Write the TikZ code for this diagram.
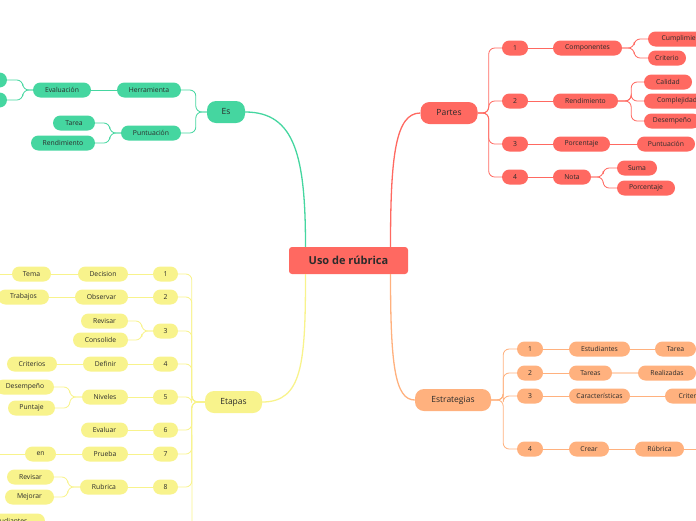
\documentclass[tikz,border=0pt]{standalone}
\usepackage{fontspec}
\setmainfont{Open Sans}
\usetikzlibrary{calc}

\definecolor{mmgreen}{HTML}{45D6A0}
\definecolor{mmred}{HTML}{FF6961}
\definecolor{mmyellow}{HTML}{F8F38C}
\definecolor{mmorange}{HTML}{FFB17E}
\definecolor{mmtext}{HTML}{2B2B2B}

\begin{document}
\begin{tikzpicture}[x=1pt, y=-1pt,
    box/.style={rounded corners=7.5pt, minimum height=15pt, inner sep=0pt,
        font=\fontsize{6.8}{7}\selectfont, text=mmtext},
    topic/.style={rounded corners=9pt, minimum height=22pt, inner sep=0pt,
        font=\fontsize{8.5}{9}\selectfont, text=mmtext},
    gbox/.style={box, fill=mmgreen}, rbox/.style={box, fill=mmred},
    ybox/.style={box, fill=mmyellow}, obox/.style={box, fill=mmorange},
    link/.style={line width=0.8pt, rounded corners=6pt},
    branch/.style={line width=1.3pt},
]
    \useasboundingbox (0,0) rectangle (696,520);
    \clip (0,0) rectangle (696,520);

    % Root
    \node[fill=mmred, rounded corners=3pt, minimum width=119pt, minimum height=27pt,
        font=\fontsize{11}{12}\selectfont\bfseries, text=mmtext] (root) at (348.5,260.5) {Uso de rúbrica};
    \coordinate (rtl) at ($(root.north)+(-43,0)$);
    \coordinate (rtr) at ($(root.north)+(42,0)$);
    \coordinate (rbl) at ($(root.south)+(-43,0)$);
    \coordinate (rbr) at ($(root.south)+(42,0)$);

    % Green branch: Es
    \node[topic, fill=mmgreen, minimum width=38pt] (es) at (226,112) {Es};
    \node[gbox, minimum width=64pt] (herr) at (149,90) {Herramienta};
    \node[gbox, minimum width=60pt] (punt) at (151,133) {Puntuación};
    \node[gbox, minimum width=58pt] (eval) at (62,90) {Evaluación};
    \node[gbox, minimum width=54pt] (evalA) at (-20,80) {};
    \node[gbox, minimum width=54pt] (evalB) at (-20,100) {};
    \node[gbox, minimum width=42pt] (tarea) at (74,123) {Tarea};
    \node[gbox, minimum width=64pt] (rend) at (63,143) {Rendimiento};

    \draw[branch, mmgreen] (es.east) .. controls +(50,0) and +(0,-90) .. (rtl);
    \draw[link, mmgreen] (es.west) -- ++(-11,0) |- (herr.east);
    \draw[link, mmgreen] (es.west) -- ++(-11,0) |- (punt.east);
    \draw[link, mmgreen] (herr.west) -- (eval.east);
    \draw[link, mmgreen] (eval.west) -- ++(-10,0) |- (evalA.east);
    \draw[link, mmgreen] (eval.west) -- ++(-10,0) |- (evalB.east);
    \draw[link, mmgreen] (punt.west) -- ++(-11,0) |- (tarea.east);
    \draw[link, mmgreen] (punt.west) -- ++(-11,0) |- (rend.east);

    % Red branch: Partes
    \node[topic, fill=mmred, minimum width=57pt] (partes) at (449,113) {Partes};
    \foreach \n/\y in {1/48, 2/101, 3/144, 4/177}
        \node[rbox, minimum width=26pt] (p\n) at (515,\y) {\n};
    \node[rbox, minimum width=69pt] (comp) at (587.5,48) {Componentes};
    \node[rbox, minimum width=65pt] (rendR) at (585.5,101) {Rendimiento};
    \node[rbox, minimum width=57pt] (porc) at (581.5,144) {Porcentaje};
    \node[rbox, minimum width=38pt] (nota) at (572,177) {Nota};
    \node[rbox, minimum width=72pt] (cumpl) at (684,39) {Cumplimiento};
    \node[rbox, minimum width=38pt] (crit) at (667,58) {Criterio};
    \node[rbox, minimum width=48pt] (cal) at (668,82) {Calidad};
    \node[rbox, minimum width=66pt] (compl) at (677,101) {Complejidad};
    \node[rbox, minimum width=56pt] (desemp) at (672,121) {Desempeño};
    \node[rbox, minimum width=58pt] (puntR) at (666,144) {Puntuación};
    \node[rbox, minimum width=40pt] (suma) at (637,168) {Suma};
    \node[rbox, minimum width=58pt] (porcR) at (646,188) {Porcentaje};

    \draw[branch, mmred] (partes.west) .. controls +(-25,0) and +(0,-90) .. (rtr);
    \foreach \n in {1,...,4}
        \draw[link, mmred] (partes.east) -- ++(11,0) |- (p\n.west);
    \draw[link, mmred] (p1.east) -- (comp.west);
    \draw[link, mmred] (p2.east) -- (rendR.west);
    \draw[link, mmred] (p3.east) -- (porc.west);
    \draw[link, mmred] (p4.east) -- (nota.west);
    \draw[link, mmred] (comp.east) -- ++(12,0) |- (cumpl.west);
    \draw[link, mmred] (comp.east) -- ++(12,0) |- (crit.west);
    \foreach \c in {cal, compl, desemp}
        \draw[link, mmred] (rendR.east) -- ++(13,0) |- (\c.west);
    \draw[link, mmred] (porc.east) -- (puntR.west);
    \draw[link, mmred] (nota.east) -- ++(12,0) |- (suma.west);
    \draw[link, mmred] (nota.east) -- ++(12,0) |- (porcR.west);

    % Yellow branch: Etapas
    \node[topic, fill=mmyellow, minimum width=57pt] (etapas) at (233.5,402) {Etapas};
    \foreach \n/\y in {1/274, 2/297, 3/331, 4/364, 5/397, 6/430, 7/454, 8/487}
        \node[ybox, minimum width=25pt] (e\n) at (165.5,\y) {\n};
    \node[ybox, minimum width=50pt] (decision) at (103,274) {Decision};
    \node[ybox, minimum width=53pt] (observar) at (101.5,297) {Observar};
    \node[ybox, minimum width=47pt] (revisar) at (104.5,321) {Revisar};
    \node[ybox, minimum width=55pt] (consol) at (100.5,340) {Consolide};
    \node[ybox, minimum width=45pt] (definir) at (105.5,364) {Definir};
    \node[ybox, minimum width=46pt] (niveles) at (105,397) {Niveles};
    \node[ybox, minimum width=47pt] (evaluar) at (104.5,430) {Evaluar};
    \node[ybox, minimum width=46pt] (prueba) at (105,454) {Prueba};
    \node[ybox, minimum width=48pt] (rubrica) at (104,487) {Rubrica};
    \node[ybox, minimum width=39pt] (tema) at (31.5,274) {Tema};
    \node[ybox, minimum width=51pt] (trabajos) at (23.5,297) {Trabajos};
    \node[ybox, minimum width=50pt] (criterios) at (32,364) {Criterios};
    \node[ybox, minimum width=58pt] (desempY) at (25,387) {Desempeño};
    \node[ybox, minimum width=47pt] (puntaje) at (31.5,408) {Puntaje};
    \node[ybox, minimum width=31pt] (en) at (40.5,454) {en};
    \node[ybox, minimum width=47pt] (revisarY) at (30.5,477) {Revisar};
    \node[ybox, minimum width=49pt] (mejorar) at (29.5,497) {Mejorar};
    \node[ybox, minimum width=72pt] (estud) at (9,521) {Estudiantes};
    \coordinate (temaEnd) at (-10,274);
    \coordinate (enEnd) at (-10,454);
    \coordinate (etapasEnd) at (192,540);

    \draw[branch, mmyellow] (etapas.east) .. controls +(40,0) and +(0,90) .. (rbl);
    \foreach \n in {1,...,8}
        \draw[link, mmyellow] (etapas.west) -- ++(-13,0) |- (e\n.east);
    \draw[link, mmyellow] (etapas.west) -- ++(-13,0) -- (etapasEnd);
    \draw[link, mmyellow] (e1.west) -- (decision.east);
    \draw[link, mmyellow] (e2.west) -- (observar.east);
    \draw[link, mmyellow] (e3.west) -- ++(-11,0) |- (revisar.east);
    \draw[link, mmyellow] (e3.west) -- ++(-11,0) |- (consol.east);
    \draw[link, mmyellow] (e4.west) -- (definir.east);
    \draw[link, mmyellow] (e5.west) -- (niveles.east);
    \draw[link, mmyellow] (e6.west) -- (evaluar.east);
    \draw[link, mmyellow] (e7.west) -- (prueba.east);
    \draw[link, mmyellow] (e8.west) -- (rubrica.east);
    \draw[link, mmyellow] (decision.west) -- (tema.east);
    \draw[link, mmyellow] (tema.west) -- (temaEnd);
    \draw[link, mmyellow] (observar.west) -- (trabajos.east);
    \draw[link, mmyellow] (definir.west) -- (criterios.east);
    \draw[link, mmyellow] (niveles.west) -- ++(-12,0) |- (desempY.east);
    \draw[link, mmyellow] (niveles.west) -- ++(-12,0) |- (puntaje.east);
    \draw[link, mmyellow] (prueba.west) -- (en.east);
    \draw[link, mmyellow] (en.west) -- (enEnd);
    \draw[link, mmyellow] (rubrica.west) -- ++(-12,0) |- (revisarY.east);
    \draw[link, mmyellow] (rubrica.west) -- ++(-12,0) |- (mejorar.east);

    % Orange branch: Estrategias
    \node[topic, fill=mmorange, minimum width=76pt] (estr) at (453,400) {Estrategias};
    \foreach \n/\y in {1/349, 2/373, 3/396, 4/449}
        \node[obox, minimum width=26pt] (s\n) at (530,\y) {\n};
    \node[obox, minimum width=61pt] (estudO) at (599.5,349) {Estudiantes};
    \node[obox, minimum width=43pt] (tareas) at (590.5,373) {Tareas};
    \node[obox, minimum width=61pt] (caract) at (599.5,396) {Características};
    \node[obox, minimum width=40pt] (crear) at (589,449) {Crear};
    \node[obox, minimum width=41pt] (tareaO) at (675.5,349) {Tarea};
    \node[obox, minimum width=58pt] (realiz) at (667,373) {Realizadas};
    \node[obox, minimum width=54pt] (critO) at (692,396) {Criterios};
    \node[obox, minimum width=49pt] (rubO) at (659.5,449) {Rúbrica};
    \coordinate (rubEnd) at (710,449);

    \draw[branch, mmorange] (estr.west) .. controls +(-20,0) and +(0,90) .. (rbr);
    \foreach \n in {1,...,4}
        \draw[link, mmorange] (estr.east) -- ++(12,0) |- (s\n.west);
    \draw[link, mmorange] (s1.east) -- (estudO.west);
    \draw[link, mmorange] (s2.east) -- (tareas.west);
    \draw[link, mmorange] (s3.east) -- (caract.west);
    \draw[link, mmorange] (s4.east) -- (crear.west);
    \draw[link, mmorange] (estudO.east) -- (tareaO.west);
    \draw[mmorange!50, line width=2.5pt] (tareas.east) -- (realiz.west);
    \draw[link, mmorange] (caract.east) -- (critO.west);
    \draw[link, mmorange] (crear.east) -- (rubO.west);
    \draw[link, mmorange] (rubO.east) -- (rubEnd);
\end{tikzpicture}
\end{document}
